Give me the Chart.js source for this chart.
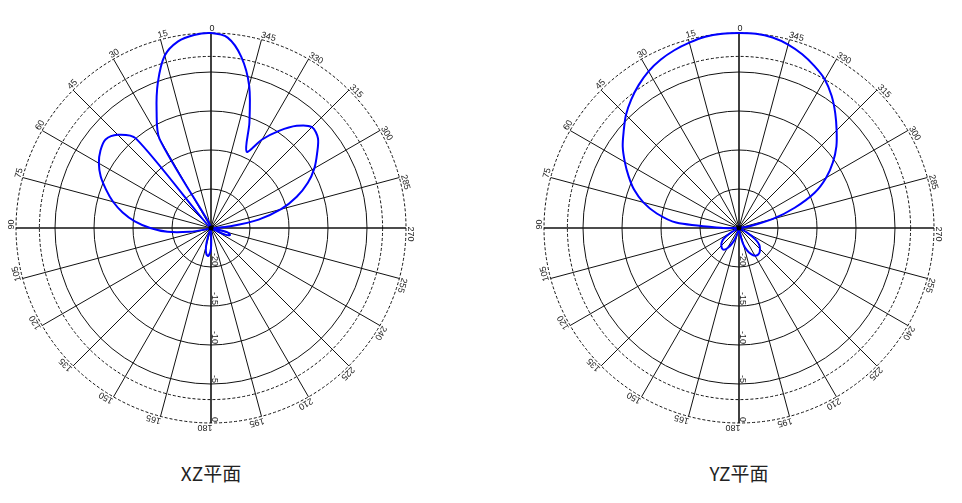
<!DOCTYPE html>
<html>
<head>
<meta charset="utf-8">
<script src="https://cdn.jsdelivr.net/npm/chart.js@4.4.1/dist/chart.umd.min.js"></script>
<style>
  body { margin: 0; background: #fff; width: 962px; height: 503px; position: relative; overflow: hidden;
         font-family: "Noto Sans CJK SC", "Noto Sans", sans-serif; }
  .plot { position: absolute; top: 18px; width: 420px; height: 420px; }
  .plot canvas { display: block; }
  .title { position: absolute; top: 460px; width: 200px; text-align: center; font-size: 19px; line-height: 25px; color: #222; }
</style>
</head>
<body>
<div class="plot" style="left:1px"><canvas id="xz" width="420" height="420"></canvas></div>
<div class="plot" style="left:529px"><canvas id="yz" width="420" height="420"></canvas></div>
<div class="title" style="left:111px">XZ平面</div>
<div class="title" style="left:639px">YZ平面</div>
<script>
// angles in degrees, counter-clockwise from the top
const angles = [0, 5, 10, 15, 20, 25, 30, 35, 40, 45, 50, 55, 60, 65, 70, 75, 80, 85,
  90, 95, 100, 105, 110, 115, 120, 125, 130, 135, 140, 145, 150, 155, 160, 165, 170, 175,
  180, 185, 190, 195, 200, 205, 210, 215, 220, 225, 230, 235, 240, 245, 250, 255, 260, 265,
  270, 275, 280, 285, 290, 295, 300, 305, 310, 315, 320, 325, 330, 335, 340, 345, 350, 355];

// gain (dB) at each angle above
const xzGain = [0, -0.15, -0.7, -2.1, -5.1, -8.5, -11.8, -25, -10.0, -8.1, -7.35, -7.7, -8.4, -9.4, -10.7, -12.0, -13.5, -15.2,
  -17.2, -19.4, -22.2, -24.2, -25, -25, -25, -25, -25, -25, -25, -25, -25, -25, -24, -22.5, -21.6, -21.4,
  -22.4, -25, -25, -25, -25, -25, -25, -25, -25, -25, -25, -25, -24.5, -23, -22.4, -22.8, -24.5, -25,
  -24.5, -22.5, -18.8, -15.7, -13.3, -11.3, -9.7, -8.4, -7.1, -6.7, -7.9, -9.8, -11.9, -14.2, -10.6, -6.1, -2.7, -0.5];

const yzGain = [0, 0, -0.1, -0.4, -0.75, -1.2, -1.8, -2.6, -3.5, -4.5, -5.7, -6.8, -8.1, -9.4, -10.7, -12.3, -14.3, -16.9,
  -23, -25, -25, -25, -25, -25, -23.8, -22.6, -22.1, -21.8, -21.6, -21.6, -22.0, -22.7, -23.5, -24.5, -25, -25,
  -25, -25, -24.2, -22.8, -21.9, -21.3, -20.9, -20.8, -20.9, -21.2, -21.6, -22.4, -23.8, -25, -25, -25, -25, -25,
  -25, -25, -23.5, -20.5, -17.4, -14.3, -12.1, -10.3, -8.7, -7.3, -5.8, -4.3, -3.0, -2.1, -1.3, -0.65, -0.2, 0];

const radialTicks = [-25, -20, -15, -10, -5, -3, 0];
const dottedRings = [-3, 0];
const radialTickLabels = ['-20', '-15', '-10', '-5', '0'];
const spokeLabels = ['0', '15', '30', '45', '60', '75', '90', '105', '120', '135', '150', '165',
  '180', '195', '210', '225', '240', '255', '270', '285', '300', '315', '330', '345'];

// radar goes clockwise, the plot goes counter-clockwise
const ordered = arr => arr.map((_, i) => arr[(arr.length - i) % arr.length]);
const labels = ordered(angles);
const radarIndex = a => labels.indexOf(a);

const polarText = {
  id: 'polarText',
  afterDraw(chart) {
    const s = chart.scales.r;
    const ctx = chart.ctx;
    const outer = s.getDistanceFromCenterForValue(s.max);
    ctx.save();
    ctx.fillStyle = '#222';
    ctx.font = '9px "Liberation Sans", Arial, sans-serif';

    ctx.textAlign = 'left';
    ctx.textBaseline = 'alphabetic';
    spokeLabels.forEach(lab => {
      const i = radarIndex(Number(lab));
      const p = s.getPointPosition(i, outer + 2);
      ctx.save();
      ctx.translate(p.x, p.y);
      ctx.rotate(s.getIndexAngle(i));
      ctx.fillText(lab, -1.5, 0);
      ctx.restore();
    });

    const k = radarIndex(180);
    ctx.textAlign = 'right';
    radialTickLabels.forEach(lab => {
      const d = s.getDistanceFromCenterForValue(Number(lab));
      const p = s.getPointPosition(k, d - 1);
      ctx.save();
      ctx.translate(p.x + 1, p.y);
      ctx.rotate(Math.PI / 2);
      ctx.fillText(lab, 0, 0);
      ctx.restore();
    });

    ctx.fillStyle = '#000';
    ctx.beginPath();
    ctx.arc(s.xCenter, s.yCenter, 2.5, 0, Math.PI * 2);
    ctx.fill();
    ctx.restore();
  }
};

function makeChart(id, gain) {
  new Chart(document.getElementById(id), {
    type: 'radar',
    data: {
      labels: labels,
      datasets: [{
        data: ordered(gain),
        borderColor: '#0000ff',
        borderWidth: 2,
        fill: false,
        pointRadius: 0,
        tension: 0.3,
      }]
    },
    options: {
      responsive: false,
      animation: false,
      layout: { padding: 15 },
      plugins: { legend: { display: false }, tooltip: { enabled: false } },
      scales: {
        r: {
          min: -25,
          max: 0,
          ticks: { display: false, stepSize: 5 },
          afterBuildTicks: (scale) => { scale.ticks = radialTicks.map(v => ({ value: v })); },
          afterFit: (scale) => {
            // keep the pole in the middle of the canvas, 0 dB ring at 195 px
            scale.xCenter = scale.chart.width / 2;
            scale.yCenter = scale.chart.height / 2;
            scale.drawingArea = Math.min(scale.chart.width, scale.chart.height) / 2 - 15;
          },
          pointLabels: { display: false },
          grid: {
            circular: true,
            color: (c) => (c.index === 0 ? 'rgba(0,0,0,0)' : '#111'),
            lineWidth: 1,
          },
          border: {
            dash: (c) => (c.tick && dottedRings.includes(c.tick.value) ? [3, 2] : []),
          },
          angleLines: {
            color: (c) => (labels[c.index] % 15 === 0 ? '#111' : 'rgba(0,0,0,0)'),
            lineWidth: (c) => (labels[c.index] % 90 === 0 ? 1.6 : 1),
          },
        }
      }
    },
    plugins: [polarText]
  });
}

makeChart('xz', xzGain);
makeChart('yz', yzGain);
</script>
</body>
</html>
